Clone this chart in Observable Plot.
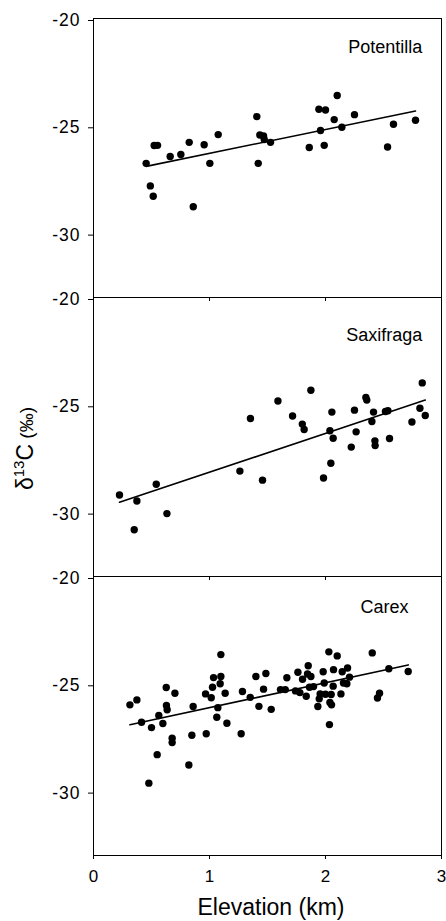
<!DOCTYPE html>
<html>
<head>
<meta charset="utf-8">
<script src="https://cdn.jsdelivr.net/npm/d3@7"></script>
<script src="https://cdn.jsdelivr.net/npm/@observablehq/plot@0.6"></script>
<style>
  html, body { margin: 0; padding: 0; background: #fff; }
  #chart { width: 446px; height: 921px; }
</style>
</head>
<body>
<div id="chart"></div>
<script>
// ---- Data ----
const species = ["Potentilla", "Saxifraga", "Carex"];
const xTicks = [0, 1, 2, 3];
const yTicks = [-20, -25, -30];
const xTickLabels = ["0", "1", "2", "3"];
const yTickLabels = ["-20", "-25", "-30"];
const xTitle = "Elevation (km)";

// Potentilla
const potElev = [0.454, 0.49, 0.515, 0.523, 0.552, 0.661, 0.753, 0.825, 0.86, 0.954, 1.003, 1.075, 1.408, 1.42, 1.434, 1.466, 1.472, 1.526, 1.86, 1.943, 1.957, 2.0, 1.989, 2.075, 2.101, 2.141, 2.25, 2.535, 2.586, 2.776];
const potD13C = [-26.75, -27.80, -28.28, -25.92, -25.91, -26.43, -26.34, -25.77, -28.77, -25.88, -26.75, -25.41, -24.57, -26.75, -25.43, -25.47, -25.64, -25.77, -26.01, -24.23, -25.22, -24.26, -25.91, -24.71, -23.59, -25.07, -24.48, -25.99, -24.93, -24.74];
const potFitElev = [0.454, 2.776];
const potFitD13C = [-26.89, -24.31];

// Saxifraga
const saxElev = [0.224, 0.351, 0.374, 0.541, 0.633, 1.262, 1.353, 1.457, 1.59, 1.716, 1.8, 1.816, 1.874, 1.983, 2.038, 2.046, 2.055, 2.066, 2.222, 2.25, 2.264, 2.348, 2.356, 2.414, 2.4, 2.426, 2.428, 2.517, 2.538, 2.552, 2.745, 2.814, 2.834, 2.86];
const saxD13C = [-29.20, -30.82, -29.48, -28.70, -30.07, -28.09, -25.64, -28.51, -24.82, -25.52, -25.90, -26.15, -24.32, -28.41, -26.21, -27.72, -25.34, -26.56, -26.97, -25.25, -26.26, -24.66, -24.78, -25.34, -25.78, -26.68, -26.90, -25.31, -25.28, -26.57, -25.80, -25.16, -23.98, -25.50];
const saxFitElev = [0.224, 2.86];
const saxFitD13C = [-29.54, -24.78];

// Carex
const carElev = [0.314, 0.374, 0.414, 0.477, 0.5, 0.549, 0.563, 0.598, 0.627, 0.629, 0.635, 0.678, 0.678, 0.702, 0.822, 0.848, 0.859, 0.966, 0.972, 1.015, 1.035, 1.026, 1.072, 1.063, 1.098, 1.098, 1.092, 1.135, 1.15, 1.273, 1.284, 1.351, 1.40, 1.426, 1.466, 1.486, 1.532, 1.612, 1.653, 1.667, 1.741, 1.762, 1.779, 1.802, 1.834, 1.851, 1.845, 1.874, 1.862, 1.897, 1.934, 1.946, 1.954, 1.98, 1.989, 2.0, 2.029, 2.034, 2.038, 2.049, 2.052, 2.066, 2.069, 2.101, 2.133, 2.144, 2.155, 2.184, 2.19, 2.207, 2.403, 2.448, 2.466, 2.546, 2.713];
const carD13C = [-25.98, -25.75, -26.79, -29.63, -27.04, -28.30, -26.48, -26.85, -25.17, -26.01, -26.21, -27.54, -27.74, -25.44, -28.78, -27.40, -26.06, -25.47, -27.33, -25.65, -24.71, -25.16, -26.11, -26.56, -23.64, -24.66, -25.00, -25.44, -26.84, -27.33, -25.36, -25.63, -24.66, -26.05, -25.25, -24.52, -26.19, -25.27, -25.27, -24.72, -25.33, -24.46, -25.41, -24.79, -25.58, -24.16, -24.54, -24.66, -25.16, -25.13, -26.06, -25.70, -25.47, -24.44, -24.96, -25.49, -23.51, -26.90, -25.87, -25.50, -25.98, -25.11, -24.34, -23.70, -25.47, -24.44, -24.96, -25.00, -24.26, -24.69, -23.56, -25.66, -25.44, -24.30, -24.43];
const carFitElev = [0.314, 2.713];
const carFitD13C = [-26.91, -24.12];

// ---- Build tables ----
const points = [];
const fits = [];
function addSeries(sp, xs, ys, target) {
  xs.forEach((x, i) => target.push({species: sp, elev: x, d13c: ys[i]}));
}
addSeries(species[0], potElev, potD13C, points);
addSeries(species[1], saxElev, saxD13C, points);
addSeries(species[2], carElev, carD13C, points);
addSeries(species[0], potFitElev, potFitD13C, fits);
addSeries(species[1], saxFitElev, saxFitD13C, fits);
addSeries(species[2], carFitElev, carFitD13C, fits);

const FONT = "'Liberation Sans', Arial, Helvetica, sans-serif";

const chart = Plot.plot({
  width: 446,
  height: 921,
  marginTop: 18,
  marginBottom: 66,
  marginLeft: 93,
  marginRight: 5,
  style: {fontFamily: FONT, fontSize: "17px", color: "#000", background: "#fff"},
  x: {domain: [0, 3]},
  y: {domain: [-33, -20]},
  fy: {domain: species, padding: 0, axis: null},
  marks: [
    Plot.frame({stroke: "#000", strokeWidth: 1}),
    Plot.axisY({ticks: yTicks, tickFormat: (d) => yTickLabels[yTicks.indexOf(d)], tickSize: 5, tickPadding: 8, label: null, facetAnchor: null, dy: 2, fontSize: 17.5}),
    Plot.axisX({ticks: xTicks, tickFormat: () => "", tickSize: 4, label: null, facetAnchor: null}),
    Plot.axisX({ticks: xTicks, tickFormat: (d) => xTickLabels[xTicks.indexOf(d)], tickSize: 4, tickPadding: 10.5, label: null}),
    Plot.line(fits, {x: "elev", y: "d13c", fy: "species", z: "species", stroke: "#000", strokeWidth: 1.6}),
    Plot.dot(points, {x: "elev", y: "d13c", fy: "species", r: 3.7, fill: "#000", stroke: "none"}),
    Plot.text([species[0]], {fy: d => d, text: d => d, frameAnchor: "top-right", textAnchor: "end", lineAnchor: "top", dx: -19.3, dy: 21.7, fontSize: 18}),
    Plot.text([species[1]], {fy: d => d, text: d => d, frameAnchor: "top-right", textAnchor: "end", lineAnchor: "top", dx: -19.3, dy: 31, fontSize: 18}),
    Plot.text([species[2]], {fy: d => d, text: d => d, frameAnchor: "top-right", textAnchor: "end", lineAnchor: "top", dx: -33, dy: 24, fontSize: 18})
  ]
});

document.getElementById("chart").appendChild(chart);

const svg = d3.select(chart);
// slightly wider spacing on y tick labels, as in the reference
svg.selectAll("text").filter(function () { return yTickLabels.includes(this.textContent); })
  .attr("letter-spacing", "1");

// Axis titles as real SVG text
svg.append("text")
  .attr("x", 271).attr("y", 915)
  .attr("text-anchor", "middle")
  .attr("font-family", FONT)
  .attr("font-size", 23)
  .attr("fill", "#000")
  .text(xTitle);

const yl = svg.append("text")
  .attr("transform", "translate(33,448.5) rotate(-90)")
  .attr("text-anchor", "middle")
  .attr("font-family", FONT)
  .attr("font-size", 23)
  .attr("fill", "#000");
yl.append("tspan").text("δ");
yl.append("tspan").attr("font-size", 15).attr("dy", -9).text("13");
yl.append("tspan").attr("dy", 9).text("C");
yl.append("tspan").attr("font-size", 19).text(" (‰)");
</script>
</body>
</html>
